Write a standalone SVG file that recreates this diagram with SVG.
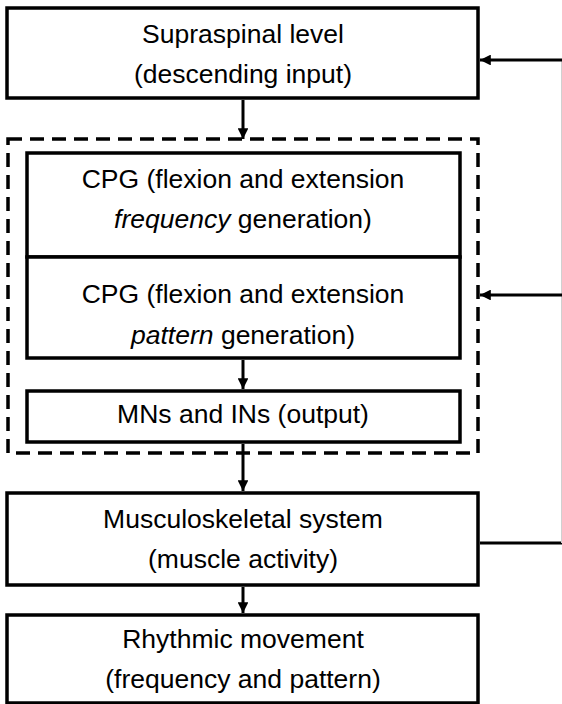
<svg xmlns="http://www.w3.org/2000/svg" width="562" height="704" viewBox="0 0 562 704">
<style>
.box{fill:#fff;stroke:#000;stroke-width:3.5}
.t{font-family:"Liberation Sans",Arial,sans-serif;font-size:26.5px;fill:#000;text-anchor:middle}
.c{stroke:#000;stroke-width:3;fill:none}
.dash{fill:none;stroke:#000;stroke-width:3.5;stroke-dasharray:14,8}
</style>
<defs>
<marker id="ah" viewBox="0 0 10 10" refX="10" refY="5" markerWidth="3.6" markerHeight="3.6" markerUnits="strokeWidth" orient="auto">
<path d="M0,0 L10,5 L0,10 z" fill="#000"/>
</marker>
</defs>
<rect width="562" height="704" fill="#fff"/>
<g id="cpg-group">
<rect class="dash" x="8" y="139" width="470" height="314"/>
</g>
<g id="supraspinal">
<rect class="box" x="7" y="8" width="471" height="90"/>
<text class="t" x="243" y="43">Supraspinal level</text>
<text class="t" x="243" y="83">(descending input)</text>
</g>
<g id="cpg-frequency">
<rect class="box" x="27" y="153" width="433" height="104"/>
<text class="t" x="243" y="188">CPG (flexion and extension</text>
<text class="t" x="243" y="228"><tspan font-style="italic">frequency</tspan> generation)</text>
</g>
<g id="cpg-pattern">
<rect class="box" x="27" y="257" width="433" height="101"/>
<text class="t" x="243" y="303">CPG (flexion and extension</text>
<text class="t" x="243" y="344"><tspan font-style="italic">pattern</tspan> generation)</text>
</g>
<g id="mns">
<rect class="box" x="27" y="391" width="433" height="51"/>
<text class="t" x="243" y="423">MNs and INs (output)</text>
</g>
<g id="musculoskeletal">
<rect class="box" x="7" y="493" width="471" height="92"/>
<text class="t" x="243" y="528">Musculoskeletal system</text>
<text class="t" x="243" y="568">(muscle activity)</text>
</g>
<g id="rhythmic">
<rect class="box" x="7" y="615" width="471" height="88"/>
<text class="t" x="243" y="648">Rhythmic movement</text>
<text class="t" x="243" y="688">(frequency and pattern)</text>
</g>
<g id="connectors">
<line class="c" x1="243" y1="100" x2="243" y2="139" marker-end="url(#ah)"/>
<line class="c" x1="243" y1="360" x2="243" y2="389" marker-end="url(#ah)"/>
<line class="c" x1="243" y1="444" x2="243" y2="491" marker-end="url(#ah)"/>
<line class="c" x1="243" y1="587" x2="243" y2="613" marker-end="url(#ah)"/>
<line class="c" x1="480" y1="543" x2="562" y2="543"/>
<line x1="561.5" y1="60" x2="561.5" y2="543" stroke="#d0d0d0" stroke-width="1"/>
<line class="c" x1="562" y1="60" x2="480" y2="60" marker-end="url(#ah)"/>
<line class="c" x1="562" y1="295" x2="480" y2="295" marker-end="url(#ah)"/>
</g>
</svg>
